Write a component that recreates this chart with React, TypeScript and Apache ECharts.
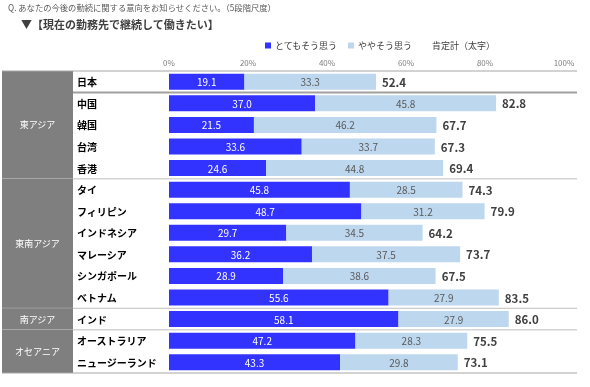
import React, { useEffect, useRef } from "react";
import * as echarts from "echarts";

const countries = ["日本", "中国", "韓国", "台湾", "香港", "タイ", "フィリピン", "インドネシア", "マレーシア", "シンガポール", "ベトナム", "インド", "オーストラリア", "ニュージーランド"];
const strongly = [19.1, 37.0, 21.5, 33.6, 24.6, 45.8, 48.7, 29.7, 36.2, 28.9, 55.6, 58.1, 47.2, 43.3];
const somewhat = [33.3, 45.8, 46.2, 33.7, 44.8, 28.5, 31.2, 34.5, 37.5, 38.6, 27.9, 27.9, 28.3, 29.8];
const totals = [52.4, 82.8, 67.7, 67.3, 69.4, 74.3, 79.9, 64.2, 73.7, 67.5, 83.5, 86.0, 75.5, 73.1];
const groupNames = ["東アジア", "東南アジア", "南アジア", "オセアニア"];
const groupSizes = [5, 6, 1, 2];
const xTicks = [0, 20, 40, 60, 80, 100];
const seriesNames = ["とてもそう思う", "ややそう思う", "肯定計（太字）"];

const FONT = "'Noto Sans CJK JP', 'Noto Sans', sans-serif";

export default function App() {
  const ref = useRef<HTMLDivElement>(null);
  useEffect(() => {
    if (!ref.current) return;
    const chart = echarts.init(ref.current, undefined, { renderer: "svg" });
    const groupData: number[][] = [];
    let s = 0;
    groupSizes.forEach((n) => {
      groupData.push([0, s, s + n - 1]);
      s += n;
    });
    const lastGroup = groupData.length - 1;
    chart.setOption({
      animation: false,
      textStyle: { fontFamily: FONT },
      graphic: [
        { type: "text", left: 8, top: 3, style: { text: "Q. あなたの今後の勤続に関する意向をお知らせください。（5段階尺度）", fontSize: 8.3, fill: "#595959", fontFamily: FONT } },
        { type: "text", left: 21, top: 18, style: { text: "▼【現在の勤務先で継続して働きたい】", fontSize: 11, fontWeight: "bold", fill: "#404040", fontFamily: FONT } },
      ],
      legend: {
        left: 260,
        top: 36,
        itemWidth: 6,
        itemHeight: 6,
        itemGap: 10,
        textStyle: { fontSize: 9, color: "#404040", fontFamily: FONT, padding: [0, 0, 0, -1] },
        data: [
          { name: seriesNames[0], icon: "rect" },
          { name: seriesNames[1], icon: "rect" },
          { name: seriesNames[2], icon: "none" },
        ],
      },
      grid: { left: 169, right: 26, top: 71, bottom: 14 },
      xAxis: {
        type: "value",
        position: "top",
        min: xTicks[0],
        max: xTicks[xTicks.length - 1],
        interval: 20,
        axisLine: { show: false },
        axisTick: { show: false },
        splitLine: { show: false },
        axisLabel: { formatter: "{value}%", fontSize: 8, color: "#7f7f7f", margin: 5 },
      },
      yAxis: {
        type: "category",
        data: countries,
        inverse: true,
        axisLine: { show: false },
        axisTick: { show: false },
        axisLabel: { align: "left", margin: 92, fontSize: 10, fontWeight: "bold", color: "#000", fontFamily: FONT },
      },
      series: [
        {
          name: seriesNames[0],
          type: "bar",
          stack: "a",
          barWidth: 16,
          data: strongly,
          itemStyle: { color: "#3333FF" },
          label: { show: true, position: "inside", color: "#fff", fontSize: 10, formatter: (p: any) => p.value.toFixed(1) },
          z: 3,
        },
        {
          name: seriesNames[1],
          type: "bar",
          stack: "a",
          barWidth: 16,
          data: somewhat,
          itemStyle: { color: "#BDD7EE" },
          label: { show: true, position: "inside", color: "#595959", fontSize: 10, formatter: (p: any) => p.value.toFixed(1) },
          z: 3,
        },
        {
          name: seriesNames[2],
          type: "bar",
          barWidth: 16,
          barGap: "-100%",
          data: totals,
          itemStyle: { color: "rgba(0,0,0,0)" },
          label: { show: true, position: "right", distance: 6, color: "#404040", fontSize: 11.5, fontWeight: "bold", formatter: (p: any) => p.value.toFixed(1) },
          z: 2,
        },
        {
          type: "custom",
          coordinateSystem: "cartesian2d",
          clip: false,
          silent: true,
          z: 1,
          encode: { x: 0, y: 1 },
          data: groupData,
          renderItem: (params: any, api: any) => {
            const st = api.value(1);
            const en = api.value(2);
            const band = api.size([0, 1])[1];
            const y0 = api.coord([0, st])[1] - band / 2;
            const y1 = api.coord([0, en])[1] + band / 2;
            const idx = params.dataIndex;
            const children: any[] = [
              { type: "rect", shape: { x: 2, y: y0, width: 71, height: y1 - y0 }, style: { fill: "#7f7f7f" } },
              {
                type: "text",
                style: { text: groupNames[idx], x: 37.5, y: (y0 + y1) / 2, align: "center", verticalAlign: "middle", fill: "#fff", fontSize: 9, fontFamily: FONT },
              },
            ];
            children.push({ type: "line", shape: { x1: 2, y1: y1, x2: 577, y2: y1 }, style: { stroke: idx === lastGroup ? "#a6a6a6" : "#bfbfbf", lineWidth: 1 } });
            if (idx === 0) {
              children.push({ type: "line", shape: { x1: 2, y1: y0, x2: 577, y2: y0 }, style: { stroke: "#a6a6a6", lineWidth: 1 } });
              const ySep = api.coord([0, st])[1] + band / 2;
              children.push({ type: "line", shape: { x1: 73, y1: ySep, x2: 577, y2: ySep }, style: { stroke: "#a0a0a0", lineWidth: 2 } });
            }
            return { type: "group", children };
          },
        },
      ],
    });
    return () => chart.dispose();
  }, []);
  return <div ref={ref} style={{ position: "fixed", left: 0, top: 0, width: 590, height: 387 }} />;
}
